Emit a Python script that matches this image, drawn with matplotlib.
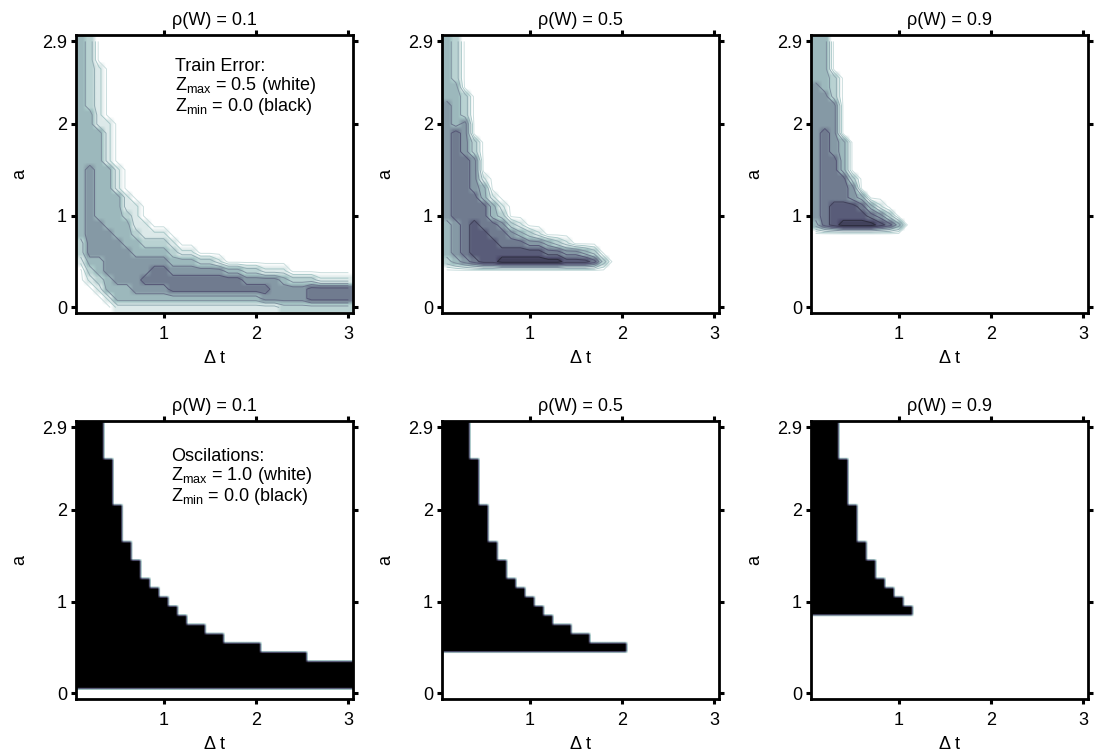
import numpy as np
import matplotlib.pyplot as plt

plt.rcParams['font.family'] = ['Liberation Sans', 'DejaVu Sans']
plt.rcParams['font.size'] = 13

# grid of the parameter sweep
dt = np.round(np.arange(1, 31) * 0.1, 1)      # step size, x axis
a = np.round(np.arange(0, 30) * 0.1, 1)       # a, y axis
rho = [0.1, 0.5, 0.9]

# train error, one string per dt column, read from a = 0.0 upwards
# '.' = 0.5 (white), digit d = 0.05 * d
err_rho01 = [
    "....." + "988" + "7" * 22,
    "..." + "987" + "6" * 10 + "7" * 6 + "8" * 8,
    ".." + "987" + "7" + "6" * 4 + "7" * 10 + "9" * 7,
    "." + "977" + "6" * 5 + "7" * 7 + "99999",
    "977" + "66666" + "77777" + "999",
    "977" + "6666" + "777" + "8" + "99",
    "976" + "666" + "77" + "8" + "999",
    "9765667899", "976556789", "976556789", "97556789", "9755679",
    "9755679", "975568", "975568", "975569", "97557",
    "97557", "97568", "97568", "96569", "96669",
    "86679", "8668", "8668", "8558", "8559",
    "8559", "8559", "8559",
]
err_rho05 = [
    "....." + "8" + "7777" + "6" * 13 + "7" * 7,
    "....." + "7" + "6666" + "5" * 10 + "77777" + "88888",
    "....." + "6" + "5555" + "5" * 7 + "6666" + "888",
    "....." + "5" + "4444" + "555" + "6666" + "88",
    "....." + "4" + "444" + "555" + "77" + "9",
    "....." + "4" + "44" + "55" + "77" + "9",
    "....." + "3" + "4" + "55" + "6" + "8" + "9",
    ".....34568", ".....34579", ".....3468", ".....3469", ".....357",
    ".....358", ".....469", ".....46", ".....47", ".....58", ".....8",
    "", "", "", "", "", "", "", "", "", "", "", "",
]
err_rho09 = [
    "." * 9 + "7" + "6" * 15 + "7" * 5,
    "." * 9 + "5" + "5" * 10 + "6666" + "777777",
    "." * 9 + "4" + "445" + "55556" + "66666" + "888",
    "." * 9 + "3" + "44" + "555" + "7777",
    "." * 9 + "3" + "4" + "4" + "66" + "8",
    "." * 9 + "3457", "." * 9 + "357", "." * 9 + "469",
    "." * 9 + "58", "." * 9 + "7",
    "", "", "", "", "", "", "", "", "", "",
    "", "", "", "", "", "", "", "", "", "",
]
train_error = [err_rho01, err_rho05, err_rho09]

# oscillations: 0 (black) for floor <= a <= top, 1 (white) elsewhere
osc_top = [2.9, 2.9, 2.9, 2.5, 2.0, 1.6, 1.4, 1.2, 1.1, 1.0,
           0.9, 0.8, 0.7, 0.7, 0.6, 0.6, 0.5, 0.5, 0.5, 0.5,
           0.4, 0.4, 0.4, 0.4, 0.4, 0.3, 0.3, 0.3, 0.3, 0.3]
osc_floor = [0.1, 0.5, 0.9]


def error_grid(columns):
    z = np.full((len(a), len(dt)), 0.5)
    for i, col in enumerate(columns):
        for j, ch in enumerate(col):
            if ch != '.':
                z[j, i] = 0.05 * int(ch)
    return z


def osc_grid(floor):
    z = np.ones((len(a), len(dt)))
    for i, top in enumerate(osc_top):
        z[(a >= floor - 1e-9) & (a <= top + 1e-9), i] = 0.0
    return z


def show_field(ax, z, vmax, rep):
    # repeat cells so bilinear smoothing only softens the cell edges
    fine = np.repeat(np.repeat(z, rep, axis=0), rep, axis=1)
    ax.imshow(fine, origin='lower', extent=(0.05, 3.05, -0.05, 2.95),
              cmap='bone', vmin=0, vmax=vmax, interpolation='bilinear',
              aspect='auto')


def style_axes(ax, r):
    ax.set_xlim(0.05, 3.05)
    ax.set_ylim(-0.06, 2.97)
    ax.set_xticks([1, 2, 3])
    ax.set_yticks([0, 1, 2, 2.9])
    ax.set_yticklabels(['0', '1', '2', '2.9'])
    ax.tick_params(direction='out', length=3.5, width=2.2, top=True,
                   right=True, pad=3, labelsize=13)
    ax.tick_params(axis='x', pad=6)
    for s in ax.spines.values():
        s.set_linewidth(2)
    ax.set_title(f'ρ(W) = {r}', fontsize=13, pad=7)
    ax.set_xlabel('Δ t', labelpad=5)
    ax.set_ylabel('a', labelpad=10)


W, H = 1094, 753
fig = plt.figure(figsize=(W / 100, H / 100), dpi=100)
lefts = [76, 442, 811]
tops = [35, 421]
width, height = 277, 278

levels = [0.175, 0.225, 0.275, 0.325, 0.375, 0.425, 0.46, 0.49]
line_colors = plt.cm.bone(np.linspace(0.2, 0.85, len(levels)))

for k, r in enumerate(rho):
    # top row: train error with contour lines
    ax = fig.add_axes([lefts[k] / W, 1 - (tops[0] + height) / H, width / W, height / H])
    z = error_grid(train_error[k])
    show_field(ax, z, 0.5, 2)
    ax.contour(dt, a, z, levels=levels, colors=line_colors, linewidths=0.7)
    style_axes(ax, r)
    if k == 0:
        ax.text(1.12, 2.72, 'Train Error:\n$\\mathregular{Z_{max}}$ = 0.5 (white)\n'
                '$\\mathregular{Z_{min}}$ = 0.0 (black)', va='top', ha='left',
                fontsize=13, linespacing=1.0)

    # bottom row: oscillation map
    ax = fig.add_axes([lefts[k] / W, 1 - (tops[1] + height) / H, width / W, height / H])
    show_field(ax, osc_grid(osc_floor[k]), 1.0, 3)
    style_axes(ax, r)
    if k == 0:
        ax.text(1.08, 2.68, 'Oscilations:\n$\\mathregular{Z_{max}}$ = 1.0 (white)\n'
                '$\\mathregular{Z_{min}}$ = 0.0 (black)', va='top', ha='left',
                fontsize=13, linespacing=1.0)

fig.savefig('out.png', dpi=100)
